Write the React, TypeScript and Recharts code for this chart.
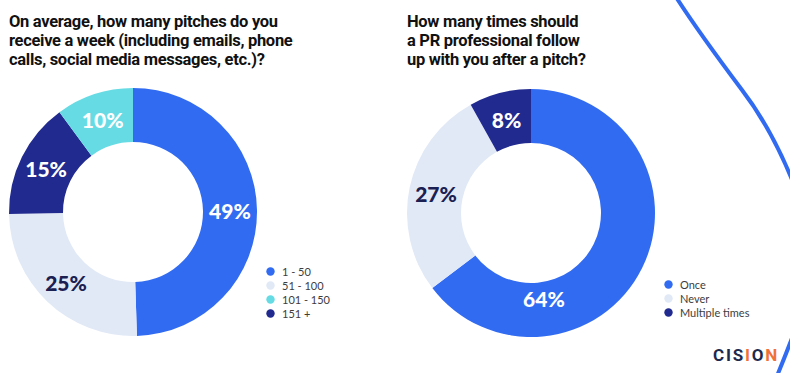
import { PieChart, Pie, Cell, Legend } from 'recharts';

// left chart: pitches per week
const PITCH_CATS = ['1 - 50', '51 - 100', '151 +', '101 - 150'];
const PITCH_VALUES = [49, 25, 15, 10];
const PITCH_LEGEND_ORDER = ['1 - 50', '51 - 100', '101 - 150', '151 +'];

// right chart: follow-ups
const FOLLOW_CATS = ['Once', 'Never', 'Multiple times'];
const FOLLOW_VALUES = [64, 27, 8];

const TITLE_LEFT = [
  'On average, how many pitches do you',
  'receive a week (including emails, phone',
  'calls, social media messages, etc.)?',
];
const TITLE_RIGHT = [
  'How many times should',
  'a PR professional follow',
  'up with you after a pitch?',
];

const BLUE = '#316bf2';
const LIGHT = '#e1e9f6';
const CYAN = '#66dbe4';
const NAVY = '#212a8e';
const DARK_TEXT = '#1b2052';

const CAT_COLOR: Record<string, string> = {
  '1 - 50': BLUE,
  '51 - 100': LIGHT,
  '101 - 150': CYAN,
  '151 +': NAVY,
  Once: BLUE,
  Never: LIGHT,
  'Multiple times': NAVY,
};

const pitchData = PITCH_CATS.map((name, i) => ({ name, value: PITCH_VALUES[i] }));
const followData = FOLLOW_CATS.map((name, i) => ({ name, value: FOLLOW_VALUES[i] }));

const RAD = Math.PI / 180;
const NO_MARGIN = { top: 0, right: 0, bottom: 0, left: 0 };

function makeLabel(shift: number[] = [], radius: number[] = []) {
  return (props: any) => {
    const { cx, cy, midAngle, innerRadius, outerRadius, index, payload, value } = props;
    const r = radius[index] ?? (innerRadius + outerRadius) / 2;
    const a = (midAngle + (shift[index] ?? 0)) * RAD;
    const x = cx + r * Math.cos(a);
    const y = cy - r * Math.sin(a);
    const name = payload?.name ?? props.name;
    const fill = CAT_COLOR[name] === LIGHT ? DARK_TEXT : '#ffffff';
    return (
      <text
        x={x}
        y={y}
        fill={fill}
        textAnchor="middle"
        dominantBaseline="central"
        fontFamily="Lato, 'Open Sans', sans-serif"
        fontWeight={900}
        fontSize={21}
      >
        {value}%
      </text>
    );
  };
}

function makeLegend(order: string[]) {
  return () => (
    <div style={{ fontFamily: 'Lato, sans-serif', fontSize: 11, color: '#3d3d3d' }}>
      {order.map((name) => (
        <div key={name} style={{ display: 'flex', alignItems: 'center', height: 14 }}>
          <svg width={9} height={9} style={{ marginRight: 7 }}>
            <circle cx={4.5} cy={4.5} r={4.2} fill={CAT_COLOR[name]} />
          </svg>
          <span>{name}</span>
        </div>
      ))}
    </div>
  );
}

function Title({ lines, x }: { lines: string[]; x: number }) {
  return (
    <>
      {lines.map((l, i) => (
        <text
          key={i}
          x={x}
          y={27 + i * 19}
          fontFamily="Roboto, sans-serif"
          fontWeight={700}
          fontSize={16.5}
          letterSpacing={-0.3}
          fill="#111111"
        >
          {l}
        </text>
      ))}
    </>
  );
}

export default function App() {
  return (
    <div style={{ position: 'absolute', left: 0, top: 0, width: 790, height: 373, background: '#fff', overflow: 'hidden' }}>
      <div style={{ position: 'absolute', left: 0, top: 0 }}>
        <PieChart width={395} height={373} margin={NO_MARGIN}>
          <Pie
            data={pitchData}
            dataKey="value"
            nameKey="name"
            cx={133}
            cy={212}
            innerRadius={70}
            outerRadius={124}
            startAngle={90}
            endAngle={-270}
            stroke="none"
            label={makeLabel()}
            labelLine={false}
            isAnimationActive={false}
          >
            {pitchData.map((d) => (
              <Cell key={d.name} fill={CAT_COLOR[d.name]} />
            ))}
          </Pie>
          <Legend
            layout="vertical"
            content={makeLegend(PITCH_LEGEND_ORDER)}
            wrapperStyle={{ left: 266, top: 264, width: 100 }}
          />
        </PieChart>
      </div>
      <div style={{ position: 'absolute', left: 395, top: 0 }}>
        <PieChart width={395} height={373} margin={NO_MARGIN}>
          <Pie
            data={followData}
            dataKey="value"
            nameKey="name"
            cx={136}
            cy={213}
            innerRadius={70}
            outerRadius={124}
            startAngle={90}
            endAngle={-270}
            stroke="none"
            label={makeLabel([-55, 0, 0], [86])}
            labelLine={false}
            isAnimationActive={false}
          >
            {followData.map((d) => (
              <Cell key={d.name} fill={CAT_COLOR[d.name]} />
            ))}
          </Pie>
          <Legend
            layout="vertical"
            content={makeLegend(FOLLOW_CATS)}
            wrapperStyle={{ left: 269, top: 277, width: 110 }}
          />
        </PieChart>
      </div>
      <svg width={790} height={373} style={{ position: 'absolute', left: 0, top: 0, pointerEvents: 'none' }}>
        <Title lines={TITLE_LEFT} x={9} />
        <Title lines={TITLE_RIGHT} x={407} />
        <path d="M 676 -3 C 692 22, 718 58, 742 90 C 762 116, 778 145, 793 182" fill="none" stroke={BLUE} strokeWidth={4} />
        <path d="M 794 333 Q 786 354 777 376" fill="none" stroke={BLUE} strokeWidth={4} />
        <text
          x={713}
          y={361}
          fontFamily="'Liberation Sans Narrow', 'Roboto', sans-serif"
          fontWeight={700}
          fontSize={17}
          letterSpacing={1.8}
        >
          <tspan fill="#1d2a4d">C</tspan>
          <tspan fill="#1d2a4d">I</tspan>
          <tspan fill="#1d2a4d">S</tspan>
          <tspan fill="#f0703a">I</tspan>
          <tspan fill="#1d2a4d">O</tspan>
          <tspan fill="#f0703a">N</tspan>
        </text>
      </svg>
    </div>
  );
}
